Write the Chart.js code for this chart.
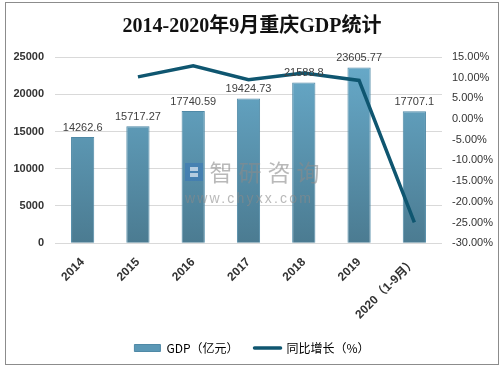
<!DOCTYPE html>
<html>
<head>
<meta charset="utf-8">
<script src="https://cdn.jsdelivr.net/npm/chart.js@4.4.1/dist/chart.umd.min.js"></script>
<style>
  html, body { margin: 0; padding: 0; background: #fff; }
  #wrap { width: 504px; height: 369px; position: relative; }
</style>
</head>
<body>
<div id="wrap"><canvas id="grafico" width="504" height="369"></canvas></div>
<script>
// dados
const categorias = ['2014', '2015', '2016', '2017', '2018', '2019', '2020（1-9月）'];
const gdp = [14262.6, 15717.27, 17740.59, 19424.73, 21588.8, 23605.77, 17707.1];
const gdpRotulos = ['14262.6', '15717.27', '17740.59', '19424.73', '21588.8', '23605.77', '17707.1'];
const crescimento = [null, 10.2, 12.87, 9.49, 11.14, 9.34, -24.99];
const ticksEsq = [0, 5000, 10000, 15000, 20000, 25000];
const ticksDir = [-30, -25, -20, -15, -10, -5, 0, 5, 10, 15];

const corLinha = '#0f5670';

function gradienteBarra(ctx) {
  const area = ctx.chart.chartArea;
  if (!area) return '#5d9dbd';
  const g = ctx.chart.ctx.createLinearGradient(0, area.top, 0, area.bottom);
  g.addColorStop(0, '#68abcb');
  g.addColorStop(1, '#4b7b91');
  return g;
}

// moldura, título, marca d'água e rótulos das barras
const extras = {
  id: 'extras',
  beforeDraw(chart) {
    const c = chart.ctx;
    c.save();
    c.fillStyle = '#fff';
    c.fillRect(0, 0, chart.width, chart.height);
    c.restore();
  },
  afterDatasetsDraw(chart) {
    const c = chart.ctx;
    // rótulos de valor (barras = dataset 1)
    const meta = chart.getDatasetMeta(1);
    c.save();
    c.font = '11px "Liberation Sans"';
    c.fillStyle = '#404040';
    c.textAlign = 'center';
    c.textBaseline = 'bottom';
    meta.data.forEach((bar, i) => {
      c.fillText(gdpRotulos[i], bar.x, bar.y - 4);
    });
    c.restore();

    // marca d'água
    c.save();
    c.globalAlpha = 0.6;
    c.fillStyle = '#8a8a8a';
    c.textBaseline = 'middle';
    c.textAlign = 'center';
    c.font = '23px "Noto Sans CJK SC"';
    ['智', '研', '咨', '询'].forEach((ch, i) => c.fillText(ch, 221 + i * 29, 172));
    c.textAlign = 'left';
    c.font = '14px "Liberation Sans"';
    c.letterSpacing = '2.2px';
    c.fillText('www.chyxx.com', 185, 199);
    c.fillStyle = '#3b78b8';
    c.fillRect(185, 163, 18, 18);
    c.fillStyle = '#fff';
    c.fillRect(190, 167, 8, 4);
    c.fillRect(190, 173, 8, 4);
    c.restore();
  },
  afterDraw(chart) {
    const c = chart.ctx;
    c.save();
    c.strokeStyle = '#8c8c8c';
    c.lineWidth = 1;
    c.strokeRect(5.5, 2.5, 493, 362);
    c.fillStyle = '#111';
    c.textAlign = 'center';
    c.textBaseline = 'middle';
    c.font = 'bold 20px "Liberation Serif", "Noto Sans CJK SC"';
    c.fillText('2014-2020年9月重庆GDP统计', 252, 27);
    c.restore();
  }
};

new Chart(document.getElementById('grafico'), {
  type: 'bar',
  data: {
    labels: categorias,
    datasets: [
      {
        type: 'line',
        label: '同比增长（%）',
        data: crescimento,
        yAxisID: 'y1',
        borderColor: corLinha,
        backgroundColor: corLinha,
        borderWidth: 3.5,
        pointRadius: 0,
        tension: 0,
        order: 0
      },
      {
        type: 'bar',
        label: 'GDP（亿元）',
        data: gdp,
        yAxisID: 'y',
        backgroundColor: gradienteBarra,
        borderColor: '#4f89a6',
        borderWidth: 1,
        categoryPercentage: 1,
        barPercentage: 0.42,
        order: 1
      }
    ]
  },
  options: {
    responsive: false,
    animation: false,
    layout: { padding: { top: 57, left: 0, right: 0, bottom: 5 } },
    plugins: {
      tooltip: { enabled: false },
      title: { display: false },
      legend: {
        position: 'bottom',
        labels: {
          color: '#333',
          font: { size: 12, family: '"Noto Sans CJK SC", "Liberation Sans"' },
          usePointStyle: true,
          pointStyleWidth: 26,
          boxHeight: 7,
          padding: 16,
          generateLabels(chart) {
            const ds = chart.data.datasets;
            return [
              { text: ds[1].label, pointStyle: 'rect', fillStyle: '#5b98b6', strokeStyle: '#4f89a6', lineWidth: 1, datasetIndex: 1 },
              { text: ds[0].label, pointStyle: 'line', fillStyle: corLinha, strokeStyle: corLinha, lineWidth: 3.5, lineCap: 'round', datasetIndex: 0 }
            ];
          }
        }
      }
    },
    scales: {
      x: {
        grid: { display: false },
        border: { display: false },
        ticks: {
          color: '#333',
          font: { size: 12, weight: 'bold', family: '"Liberation Sans", "Noto Sans CJK SC"' },
          minRotation: 45,
          maxRotation: 45,
          padding: 4
        }
      },
      y: {
        position: 'left',
        min: 0,
        max: 25000,
        afterBuildTicks(s) { s.ticks = ticksEsq.map(v => ({ value: v })); },
        afterFit(s) { s.width = 55; },
        grid: { color: '#d9d9d9', drawTicks: false },
        border: { display: false },
        ticks: {
          color: '#333',
          font: { size: 11, weight: 'bold', family: '"Liberation Sans"' },
          padding: 11,
          callback: v => String(v)
        }
      },
      y1: {
        position: 'right',
        min: -30,
        max: 15,
        afterBuildTicks(s) { s.ticks = ticksDir.map(v => ({ value: v })); },
        afterFit(s) { s.width = 62; },
        grid: { display: false, drawTicks: false },
        border: { display: false },
        ticks: {
          color: '#333',
          font: { size: 11, family: '"Liberation Sans"' },
          padding: 10,
          callback: v => v.toFixed(2) + '%'
        }
      }
    }
  },
  plugins: [extras]
});
</script>
</body>
</html>
